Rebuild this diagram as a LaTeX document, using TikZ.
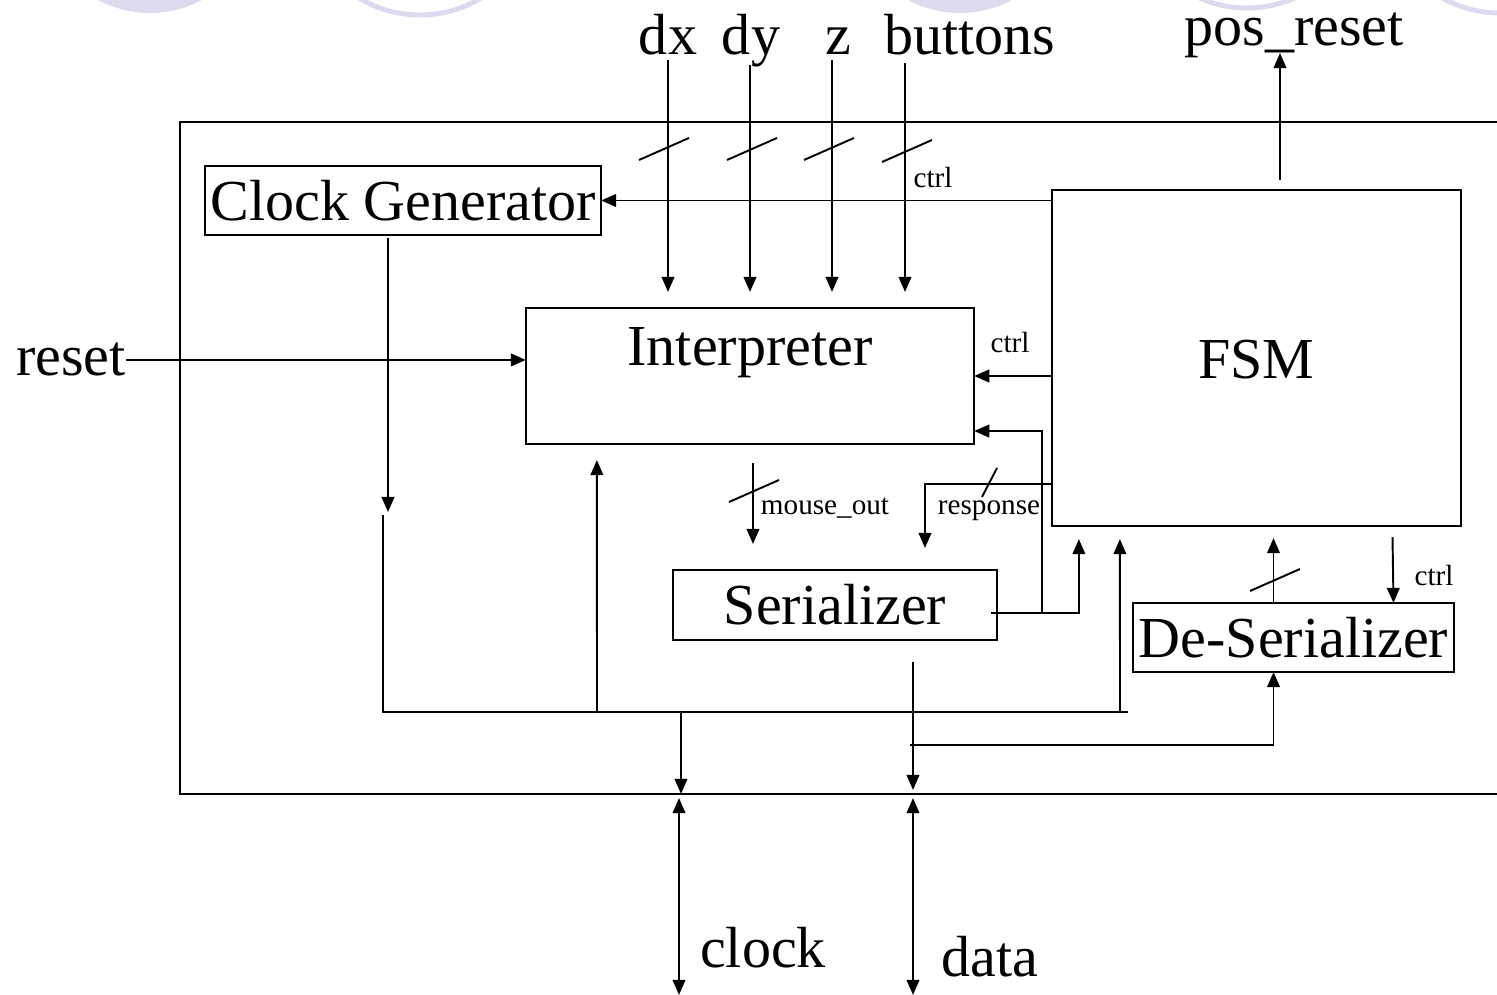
\documentclass[tikz,border=0pt]{standalone}
\usepackage{fontspec}
\setmainfont{Liberation Serif}
\usepackage{xcolor}
\usetikzlibrary{arrows.meta,positioning,calc}
\definecolor{decocolor}{RGB}{220,218,238}

\tikzset{
    busslash/.pic={\draw[line width=0.55pt] (-25,11) -- (25,-11);}
}

\begin{document}
\begin{tikzpicture}[
    x=0.01cm, y=-0.01cm,
    every node/.style={inner sep=0pt, outer sep=0pt},
    big/.style={font=\fontsize{16.5}{19}\selectfont},
    small/.style={font=\fontsize{8.3}{10}\selectfont},
    block/.style={rectangle, draw=black, line width=0.6pt, big},
    wire/.style={line width=0.55pt},
    arrow/.style={wire, -{Triangle[length=4.3pt, width=3.6pt]}},
    twoway/.style={wire, {Triangle[length=4.3pt, width=3.6pt]}-{Triangle[length=4.3pt, width=3.6pt]}}
]
\useasboundingbox (0,0) rectangle (1497,995);

% Slide decoration
\fill[decocolor] (150,-97) circle (110);
\draw[decocolor, line width=1.4pt] (420,-103) circle (118);
\fill[decocolor] (960,-97) circle (110);
\draw[decocolor, line width=1.4pt] (1247,-110) circle (118);
\draw[decocolor, line width=1.4pt] (1500,-105) circle (118);

% Chip boundary
\draw[line width=0.7pt] (1510,122) -| (180,794) -- (1510,794);
\coordinate (pinclk) at (681,794);
\coordinate (pindata) at (913,794);

% Blocks
\node[block, minimum width=3.96cm, minimum height=0.69cm] (clk) at (403,200.5) {Clock Generator};
\node[block, minimum width=4.48cm, minimum height=1.36cm] (interp) at (750,376) {};
\node[big, anchor=base] (interplabel) at ($(interp.north)+(0,58)$) {Interpreter};
\node[block, minimum width=4.09cm, minimum height=3.36cm] (fsm) at (1256.5,358) {};
\node[big, anchor=base] (fsmlabel) at ($(fsm.north)+(0,189)$) {FSM};
\node[block, minimum width=3.24cm, minimum height=0.70cm] (ser) at (835,605) {Serializer};
\node[block, minimum width=3.21cm, minimum height=0.69cm] (deser) at (1293.5,637.5) {De-Serializer};

% Pins
\node[big, anchor=base] (dx) at (668,55) {dx};
\node[big, anchor=base] (dy) at (751,55) {dy};
\node[big, anchor=base] (z) at (838,55) {z};
\node[big, anchor=base] (buttons) at (970,55) {buttons};
\node[big, anchor=base] (posreset) at (1294,46) {pos\_reset};
\node[big, anchor=base] (reset) at (71,376) {reset};
\node[big, anchor=base] (clock) at (763,968) {clock};
\node[big, anchor=base] (data) at (990,977) {data};

% Small labels
\node[small, anchor=base] (ctrlclk) at (933,188) {ctrl};
\node[small, anchor=base] (ctrlint) at (1010,353) {ctrl};
\node[small, anchor=base] (ctrldes) at (1434,586) {ctrl};
\node[small, anchor=base] (mouseout) at (825,515) {mouse\_out};
\node[small, anchor=base] (resp) at (989,515) {response};

% Mouse inputs
\coordinate (dxin) at (668,60);
\coordinate (dyin) at (750,65);
\coordinate (zin) at (832,60);
\coordinate (btnin) at (905,63);
\draw[arrow, shorten >=0.16cm] (dxin) -- (dxin |- interp.north);
\draw[arrow, shorten >=0.16cm] (dyin) -- (dyin |- interp.north);
\draw[arrow, shorten >=0.16cm] (zin) -- (zin |- interp.north);
\draw[arrow, shorten >=0.16cm] (btnin) -- (btnin |- interp.north);
\pic at (664,149) {busslash};
\pic at (752,149) {busslash};
\pic at (829,149) {busslash};
\pic at (907,151) {busslash};

% FSM control lines
\draw[arrow] (fsm.west |- clk.east) -- (clk.east);
\draw[arrow] (fsm.west |- interp.east) -- (interp.east);
\draw[arrow] ($(fsm.north)+(23.5,-10)$) -- ($(posreset.base)+(-14,7)$);
\draw[arrow] (reset.east) -- (interp.west |- reset.east);
\draw[arrow] ($(fsm.south)+(136,11)$) -- ($(deser.north)+(100,0)$);
\draw[arrow] ($(deser.north)+(-20,0)$) -- ($(fsm.south)+(17,12)$);
\pic at (1275,580) {busslash};

% Interpreter to serializer
\draw[arrow] ($(interp.south)+(3,19)$) -- ($(ser.north)+(-82,-26)$);
\pic at (754,491) {busslash};
\draw[arrow] ($(fsm.south west)+(0,-42)$) -| ($(ser.north)+(90,-22)$);
\draw[wire] (982,497) -- (997,468);

% Serializer feedback
\coordinate (j1) at (1042,613);
\draw[arrow] ($(ser.east)+(-6,8)$) -| ($(fsm.south west)+(27,13)$);
\draw[arrow] (j1) |- ($(interp.south east)+(0,-13)$);

% Clock bus
\coordinate (busL) at (383,515);
\coordinate (busR) at (1128,712);
\draw[arrow] ($(clk.south)+(-15,3)$) -- ($(busL)+(5,-3)$);
\draw[wire] (busL) |- (busR);
\draw[arrow] (busR -| 597,0) -- ($(interp.south west)+(71,16)$);
\draw[arrow] (busR -| pinclk) -- (pinclk);
\draw[arrow] ($(busR)+(-8,0)$) -- ($(fsm.south west)+(68,13)$);

% Data line
\coordinate (dtap) at (910,745);
\draw[arrow] ($(ser.south)+(78,22)$) -- ($(pindata)+(0,-4)$);
\draw[arrow] (dtap) -| ($(deser.south)+(-20,0)$);

% External pads
\coordinate (clkpad) at (679,995);
\coordinate (datapad) at (913,995);
\draw[twoway] ($(pinclk)+(-2,4)$) -- (clkpad);
\draw[twoway] ($(pindata)+(0,4)$) -- (datapad);

\end{tikzpicture}
\end{document}
